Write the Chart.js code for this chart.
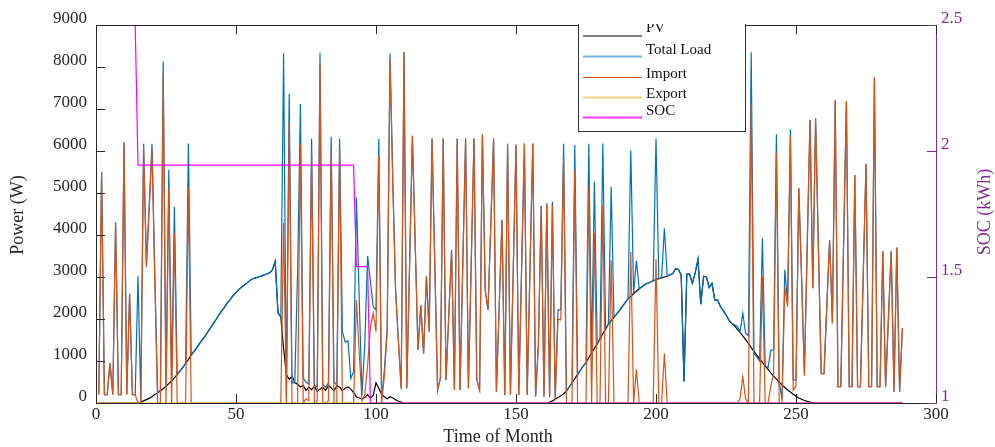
<!DOCTYPE html>
<html>
<head>
<meta charset="utf-8">
<script src="https://cdn.jsdelivr.net/npm/chart.js@4.4.1/dist/chart.umd.min.js"></script>
<style>
  html, body { margin: 0; padding: 0; background: #fff; }
  #wrap { width: 995px; height: 447px; }
</style>
</head>
<body>
<div id="wrap"><canvas id="chart" width="995" height="447"></canvas></div>
<script>
// values, one per time step (1..288)
const totalLoad = [
  200, 5500, 200, 200, 950, 200, 4300, 200, 200, 6200,
  200, 2600, 200, 200, 3020, 50, 6170, 3300, 4700, 6170,
  3100, 250, 300, 8130, 400, 5560, 530, 4675, 680, 760,
  850, 940, 6180, 1140, 1230, 1320, 1420, 1510, 1600, 1700,
  1800, 1900, 2000, 2110, 2200, 2290, 2390, 2470, 2560, 2630,
  2700, 2760, 2810, 2860, 2920, 2960, 2980, 3000, 3020, 3050,
  3070, 3100, 3170, 3370, 2150, 2050, 8330, 100, 7360, 470,
  500, 3130, 7120, 590, 500, 450, 6290, 420, 380, 8340,
  450, 380, 480, 6340, 500, 430, 6300, 1700, 1450, 1480,
  580, 750, 4890, 2500, 190, 1400, 3500, 2900, 2290, 2215,
  6290, 100, 800, 1800, 8320, 5300, 2690, 1500, 350, 8350,
  350, 3300, 6360, 3800, 1260, 2330, 1180, 3020, 1700, 6300,
  3300, 310, 590, 6300, 550, 2100, 3640, 310, 6300, 310,
  3300, 6300, 350, 3300, 6300, 550, 310, 6400, 2690, 2215,
  4250, 6300, 270, 2300, 4360, 190, 6170, 190, 3100, 6150,
  190, 3200, 6180, 190, 3200, 6180, 150, 1380, 4690, 150,
  4750, 150, 4790, 150, 2215, 2215, 6170, 280, 380, 480,
  6140, 680, 780, 880, 960, 6170, 1190, 5270, 1400, 1530,
  6180, 1760, 1880, 5150, 2040, 2120, 2210, 2300, 2390, 2480,
  6010, 2600, 3390, 2720, 2770, 2820, 2850, 2880, 2910, 6290,
  2960, 2980, 4160, 3020, 3050, 3080, 3200, 3180, 3050, 510,
  3070, 3070, 2850, 3100, 3420, 2350, 3020, 3000, 2750, 2850,
  2450, 2450, 2300, 2200, 2100, 1980, 1900, 1860, 1830, 1700,
  2135, 1660, 1600, 8350, 1180, 1100, 1000, 3920, 900, 830,
  1260, 1260, 6400, 500, 100, 3170, 2400, 6520, 550, 550,
  5110, 3000, 700, 3700, 6740, 2730, 6780, 3700, 700, 700,
  2300, 3880, 1900, 7210, 390, 390, 3800, 7190, 390, 390,
  5430, 390, 390, 3000, 5690, 390, 390, 7750, 390, 390,
  3620, 390, 2000, 3620, 270, 3700, 270, 1780
];

const pvPower = [
  0, 0, 0, 0, 0, 0, 0, 0, 0, 0,
  0, 0, 0, 0, 0, 20, 50, 80, 110, 150,
  200, 240, 290, 340, 400, 460, 530, 600, 680, 760,
  850, 940, 1040, 1140, 1230, 1320, 1420, 1510, 1600, 1700,
  1800, 1900, 2000, 2110, 2200, 2290, 2390, 2470, 2560, 2630,
  2700, 2760, 2810, 2860, 2920, 2960, 2980, 3000, 3020, 3050,
  3070, 3100, 3170, 3370, 2150, 2050, 1300, 680, 560, 640,
  480, 450, 380, 420, 300, 380, 320, 400, 280, 330,
  380, 300, 420, 360, 290, 400, 380, 300, 350, 380,
  330, 250, 150, 120, 100, 130, 200, 110, 180, 480,
  350, 200, 150, 100, 150, 120, 80, 40, 20, 0,
  0, 0, 0, 0, 0, 0, 0, 0, 0, 0,
  0, 0, 0, 0, 0, 0, 0, 0, 0, 0,
  0, 0, 0, 0, 0, 0, 0, 0, 0, 0,
  0, 0, 0, 0, 0, 0, 0, 0, 0, 0,
  0, 0, 0, 0, 0, 0, 0, 0, 0, 0,
  0, 20, 50, 90, 130, 170, 220, 280, 380, 480,
  580, 680, 780, 880, 960, 1080, 1190, 1300, 1400, 1530,
  1650, 1760, 1880, 1960, 2040, 2120, 2210, 2300, 2390, 2480,
  2540, 2600, 2660, 2720, 2770, 2820, 2850, 2880, 2910, 2940,
  2960, 2980, 3000, 3020, 3050, 3080, 3200, 3180, 3050, 510,
  3070, 3070, 2850, 3100, 3420, 2350, 3020, 3000, 2750, 2850,
  2450, 2450, 2300, 2200, 2100, 1980, 1900, 1840, 1760, 1680,
  1600, 1510, 1420, 1320, 1230, 1140, 1050, 970, 880, 800,
  720, 640, 570, 500, 430, 370, 310, 260, 210, 160,
  120, 90, 60, 40, 20, 10, 0, 0, 0, 0,
  0, 0, 0, 0, 0, 0, 0, 0, 0, 0,
  0, 0, 0, 0, 0, 0, 0, 0, 0, 0,
  0, 0, 0, 0, 0, 0, 0, 0
];

const gridImport = [
  200, 5500, 200, 200, 950, 200, 4300, 200, 200, 6200,
  200, 2600, 200, 200, 0, 0, 6120, 3230, 4600, 6040,
  2900, 0, 0, 7810, 0, 5110, 0, 4040, 0, 0,
  0, 0, 5110, 0, 0, 0, 0, 0, 0, 0,
  0, 0, 0, 0, 0, 0, 0, 0, 0, 0,
  0, 0, 0, 0, 0, 0, 0, 0, 0, 0,
  0, 0, 0, 0, 0, 0, 4290, 0, 6700, 0,
  0, 0, 6170, 0, 100, 50, 5950, 0, 50, 8090,
  0, 0, 50, 6060, 0, 0, 6040, 0, 0, 0,
  0, 0, 2450, 1200, 50, 200, 900, 1800, 2135, 1700,
  5900, 0, 650, 1700, 8180, 5200, 2650, 1460, 330, 8350,
  350, 3300, 6360, 3800, 1260, 2330, 1180, 3020, 1700, 6300,
  3300, 310, 590, 6300, 550, 2100, 3640, 310, 6300, 310,
  3300, 6300, 350, 3300, 6300, 550, 310, 6400, 2690, 2215,
  4250, 6300, 270, 2300, 4360, 190, 6170, 190, 3100, 6150,
  190, 3200, 6180, 190, 3200, 6180, 150, 1380, 4690, 150,
  4750, 130, 4710, 60, 2000, 1980, 5870, 0, 0, 0,
  5560, 0, 0, 0, 0, 5170, 0, 4050, 0, 0,
  4700, 0, 0, 3400, 0, 0, 0, 0, 0, 0,
  3600, 0, 800, 0, 0, 0, 0, 0, 0, 3420,
  0, 0, 1180, 0, 0, 0, 0, 0, 0, 0,
  0, 0, 0, 0, 0, 0, 0, 0, 0, 0,
  0, 0, 0, 0, 0, 0, 0, 0, 0, 100,
  630, 100, 0, 7140, 0, 0, 0, 3020, 0, 0,
  400, 700, 5950, 0, 0, 2770, 2290, 6340, 300, 400,
  5110, 2950, 650, 3700, 6740, 2730, 6780, 3700, 700, 700,
  2300, 3880, 1900, 7210, 390, 390, 3800, 7190, 390, 390,
  5430, 390, 390, 3000, 5690, 390, 390, 7750, 390, 390,
  3620, 390, 2000, 3620, 270, 3700, 270, 1780
];

// export stays at zero over the whole run
const exportTime = [0, 288];
const gridExport = [0, 0];

// battery state of charge, break points of the steps
const socTime = [0, 14, 15, 92, 93, 97, 98, 288];
const socKWh = [2.5, 2.5, 1.944, 1.944, 1.541, 1.541, 1, 1];

const timeTicks = [0, 50, 100, 150, 200, 250, 300];
const powerTicks = [0, 1000, 2000, 3000, 4000, 5000, 6000, 7000, 8000, 9000];
const socTicks = [1, 1.5, 2, 2.5];

const steps = totalLoad.map((_, i) => i + 1);
const toPoints = (xs, ys) => ys.map((v, i) => ({ x: xs[i], y: v }));

const SERIF = "'Liberation Serif', 'Times New Roman', serif";
const PURPLE = '#7E2F8E';
const INK = '#262626';

function lineSet(label, xs, ys, color, order, axis) {
  return {
    label: label,
    data: toPoints(xs, ys),
    borderColor: color,
    backgroundColor: color,
    borderWidth: 1.2,
    pointRadius: 0,
    tension: 0,
    fill: false,
    order: order,
    yAxisID: axis || 'y'
  };
}

const framePlugin = {
  id: 'frame',
  afterDraw(chart) {
    const ctx = chart.ctx;
    const a = chart.chartArea;
    const xs = chart.scales.x, ys = chart.scales.y, ys2 = chart.scales.y2;
    ctx.save();
    ctx.lineWidth = 1;

    // top box line
    ctx.strokeStyle = INK;
    ctx.beginPath();
    ctx.moveTo(a.left, a.top + 0.5);
    ctx.lineTo(a.right, a.top + 0.5);
    ctx.stroke();

    // inward tick marks
    ctx.beginPath();
    timeTicks.forEach(v => {
      const px = Math.round(xs.getPixelForValue(v)) + 0.5;
      ctx.moveTo(px, a.bottom); ctx.lineTo(px, a.bottom - 9);
      ctx.moveTo(px, a.top); ctx.lineTo(px, a.top + 9);
    });
    powerTicks.forEach(v => {
      const py = Math.round(ys.getPixelForValue(v)) + 0.5;
      ctx.moveTo(a.left, py); ctx.lineTo(a.left + 9, py);
    });
    ctx.stroke();
    ctx.strokeStyle = PURPLE;
    ctx.beginPath();
    socTicks.forEach(v => {
      const py = Math.round(ys2.getPixelForValue(v)) + 0.5;
      ctx.moveTo(a.right, py); ctx.lineTo(a.right - 9, py);
    });
    ctx.stroke();

    // axis titles
    ctx.font = '18px ' + SERIF;
    ctx.textAlign = 'center';
    ctx.textBaseline = 'middle';
    ctx.fillStyle = INK;
    ctx.fillText('Time of Month', 498, 437);
    ctx.save();
    ctx.translate(18, 215);
    ctx.rotate(-Math.PI / 2);
    ctx.fillText('Power (W)', 0, 0);
    ctx.restore();
    ctx.save();
    ctx.fillStyle = PURPLE;
    ctx.translate(985, 212);
    ctx.rotate(-Math.PI / 2);
    ctx.fillText('SOC (kWh)', 0, 0);
    ctx.restore();

    // legend box, cut off at the top of the axes
    const L = 578.5, R = 745.5, T = 8.5, B = 131.5;
    ctx.save();
    ctx.beginPath();
    ctx.rect(0, a.top - 1, chart.width, chart.height);
    ctx.clip();
    ctx.fillStyle = '#ffffff';
    ctx.fillRect(L, T, R - L, B - T);
    ctx.strokeStyle = '#333333';
    ctx.strokeRect(L, T, R - L, B - T);
    const items = [
      { text: 'PV', color: '#000000', w: 1.2, ly: 36, ty: 28 },
      { text: 'Total Load', color: '#78B4DE', w: 2, ly: 56.5, ty: 50 },
      { text: 'Import', color: '#D95319', w: 1.2, ly: 77.5, ty: 74 },
      { text: 'Export', color: '#F3D28C', w: 2, ly: 97.5, ty: 94 },
      { text: 'SOC', color: '#FF33FF', w: 2, ly: 117.5, ty: 111 }
    ];
    ctx.font = '15px ' + SERIF;
    ctx.textAlign = 'left';
    items.forEach(it => {
      ctx.strokeStyle = it.color;
      ctx.lineWidth = it.w;
      ctx.beginPath();
      ctx.moveTo(583, it.ly);
      ctx.lineTo(642, it.ly);
      ctx.stroke();
      ctx.fillStyle = '#111111';
      ctx.fillText(it.text, 646, it.ty);
    });
    ctx.restore();
    ctx.restore();
  }
};

new Chart(document.getElementById('chart'), {
  type: 'line',
  data: {
    datasets: [
      lineSet('PV', steps, pvPower, '#000000', 5),
      lineSet('Total Load', steps, totalLoad, '#0072BD', 4),
      lineSet('Import', steps, gridImport, '#D95319', 3),
      lineSet('Export', exportTime, gridExport, '#EDB120', 2),
      lineSet('SOC', socTime, socKWh, '#FF00FF', 1, 'y2')
    ]
  },
  options: {
    responsive: false,
    animation: false,
    devicePixelRatio: 1,
    layout: { padding: { top: 25, left: 0, right: 0, bottom: 0 } },
    plugins: { legend: { display: false }, tooltip: { enabled: false } },
    scales: {
      x: {
        type: 'linear', min: 0, max: 300,
        afterBuildTicks: s => { s.ticks = timeTicks.map(v => ({ value: v })); },
        afterFit: s => { s.height = 44; },
        grid: { display: false, drawTicks: false },
        border: { display: true, color: INK, width: 1 },
        ticks: { padding: 1, color: INK, maxRotation: 0, autoSkip: false,
                 font: { family: SERIF, size: 17 }, callback: v => String(v) }
      },
      y: {
        position: 'left', min: 0, max: 9000,
        afterBuildTicks: s => { s.ticks = powerTicks.map(v => ({ value: v })); },
        afterFit: s => { s.width = 96; },
        grid: { display: false, drawTicks: false },
        border: { display: true, color: INK, width: 1 },
        ticks: { padding: 9, labelOffset: -6, color: INK,
                 font: { family: SERIF, size: 17 }, callback: v => String(v) }
      },
      y2: {
        position: 'right', min: 1, max: 2.5,
        afterBuildTicks: s => { s.ticks = socTicks.map(v => ({ value: v })); },
        afterFit: s => { s.width = 59; },
        grid: { display: false, drawTicks: false },
        border: { display: true, color: PURPLE, width: 1 },
        ticks: { padding: 5, labelOffset: -6, color: PURPLE,
                 font: { family: SERIF, size: 17 }, callback: v => String(v) }
      }
    }
  },
  plugins: [framePlugin]
});
</script>
</body>
</html>
